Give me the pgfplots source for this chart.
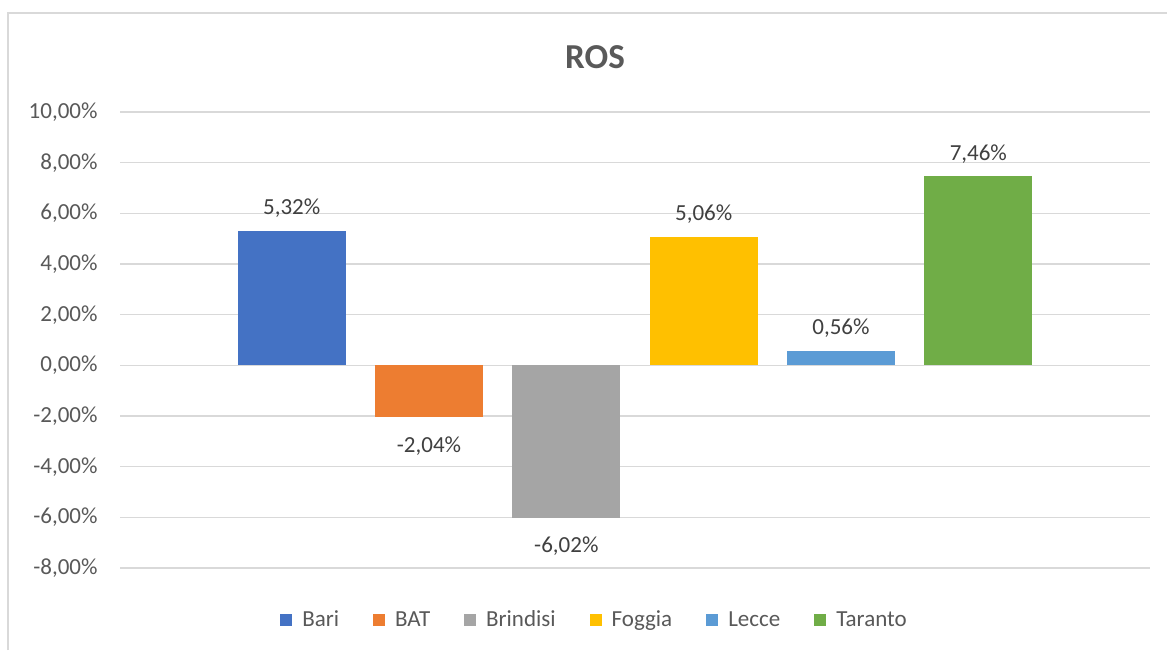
\documentclass[border=0pt]{standalone}
\usepackage{fontspec}
\setmainfont{Carlito}
\usepackage{pgfplots}
\pgfplotsset{compat=1.18}
\definecolor{cBari}{HTML}{4472C4}
\definecolor{cBAT}{HTML}{ED7D31}
\definecolor{cBrindisi}{HTML}{A5A5A5}
\definecolor{cFoggia}{HTML}{FFC000}
\definecolor{cLecce}{HTML}{5B9BD5}
\definecolor{cTaranto}{HTML}{70AD47}
\definecolor{txt}{HTML}{595959}
\definecolor{lbl}{HTML}{404040}
\definecolor{gridc}{HTML}{D9D9D9}
\begin{document}
\begin{tikzpicture}
\useasboundingbox (0,0) rectangle (583.5pt,325pt);
\fill[white] (0,0) rectangle (583.5pt,325pt);
\draw[color=gridc, line width=0.75pt] (4pt,0) -- (4pt,318.5pt) -- (583.5pt,318.5pt);
\node[font=\fontsize{17.5}{20}\selectfont\bfseries, text=txt] at (297.5pt,296.5pt) {ROS};
\begin{axis}[
  at={(60pt,41pt)}, anchor=south west,
  scale only axis, width=515pt, height=228pt,
  xmin=-1.25, xmax=6.25, ymin=-8, ymax=10,
  ytick={-8,-6,...,10}, xtick=\empty,
  axis line style={draw=none}, major tick length=0pt,
  ymajorgrids, grid style={color=gridc, line width=0.8pt},
  /pgf/number format/assume math mode=true,
  yticklabel={\pgfmathprintnumber[fixed,fixed zerofill,precision=2,use comma]{\tick}\%},
  yticklabel style={font=\fontsize{11.5}{13.8}\selectfont, text=txt, xshift=-7.7pt},
  ybar, bar width=0.787,
  nodes near coords={\pgfmathprintnumber[fixed,fixed zerofill,precision=2,use comma]{\pgfplotspointmeta}\%},
  nodes near coords style={font=\fontsize{11.5}{13.8}\selectfont, text=lbl, inner ysep=6.5pt},
  legend columns=6,
  legend image code/.code={\fill[#1] (0pt,-3pt) rectangle (6pt,3pt);},
  legend style={draw=none, fill=none, at={(0.4617,-0.1145)}, anchor=center,
    font=\fontsize{11.5}{13.8}\selectfont, text=txt,
    /tikz/every odd column/.append style={column sep=3pt},
    /tikz/every even column/.append style={column sep=15pt}},
]
\addplot[fill=cBari, draw=none, bar shift=0pt] coordinates {(0,5.32)};
\addlegendentry{Bari}
\addplot[fill=cBAT, draw=none, bar shift=0pt, nodes near coords style={yshift=-3pt}] coordinates {(1,-2.04)};
\addlegendentry{BAT}
\addplot[fill=cBrindisi, draw=none, bar shift=0pt, nodes near coords style={yshift=-3pt}] coordinates {(2,-6.02)};
\addlegendentry{Brindisi}
\addplot[fill=cFoggia, draw=none, bar shift=0pt] coordinates {(3,5.06)};
\addlegendentry{Foggia}
\addplot[fill=cLecce, draw=none, bar shift=0pt] coordinates {(4,0.56)};
\addlegendentry{Lecce}
\addplot[fill=cTaranto, draw=none, bar shift=0pt] coordinates {(5,7.46)};
\addlegendentry{Taranto}
\end{axis}
\end{tikzpicture}
\end{document}
